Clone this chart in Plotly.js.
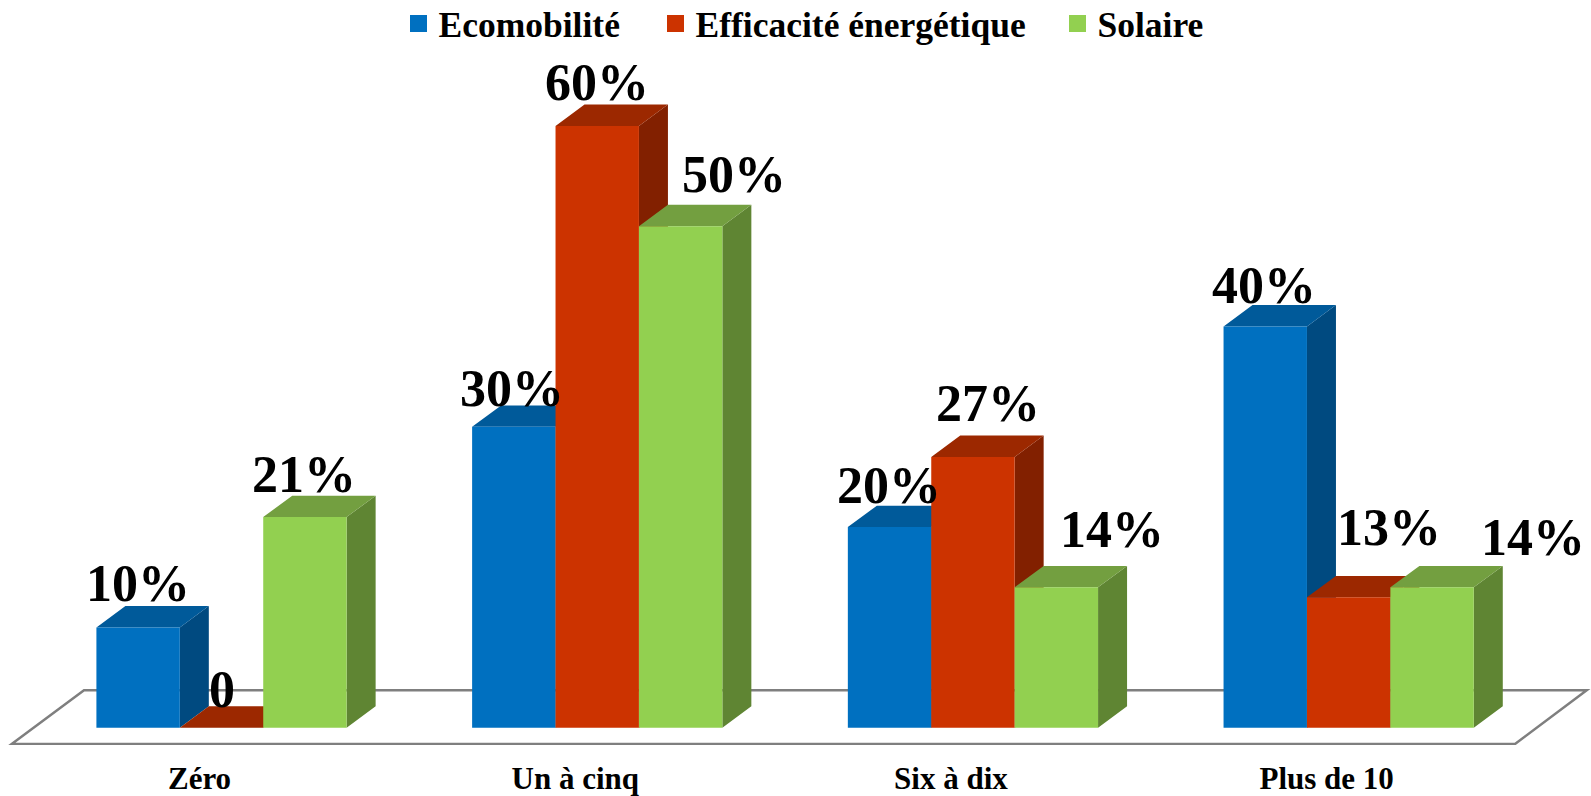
<!DOCTYPE html>
<html>
<head>
<meta charset="utf-8">
<script src="https://cdn.plot.ly/plotly-3.0.1.min.js"></script>
<style>html,body{margin:0;padding:0;background:#fff}#chart{width:1591px;height:796px}</style>
</head>
<body>
<div id="chart"></div>
<script>
// --- data ---
const categories = ["Zéro", "Un à cinq", "Six à dix", "Plus de 10"];
const ecomobilite = [10, 30, 20, 40];
const efficacite = [0, 60, 27, 13];
const solaire = [21, 50, 14, 14];
const seriesNames = ["Ecomobilité", "Efficacité énergétique", "Solaire"];
const seriesValues = [ecomobilite, efficacite, solaire];

// --- styles ---
const frontColors = ["#0070C0", "#CC3300", "#92D050"];
const topColors = ["#005A9A", "#9C2800", "#739F40"];
const sideColors = ["#004A80", "#822000", "#5F8533"];
const legendWidths = [212, 357, 118];
const W = 1591, H = 796, plotTop = 60, plotBottom = 745;
const xLo = -0.5896, xHi = 3.645, yLo = -1.725, yHi = 66.57;
const pxPerX = W / (xHi - xLo), pxPerY = (plotBottom - plotTop) / (yHi - yLo);
const barW = 0.222, depthX = 29 / pxPerX, depthY = 21.4 / pxPerY;
const FONT = '"Liberation Serif", serif';

const idx = categories.map((_, i) => i);
const traces = [];

// faces of the 3D look, on the base axes (drawn beneath the bar fronts)
seriesValues.forEach((vals, s) => {
  const left = i => i + (s - 1.5) * barW, right = i => left(i) + barW;
  const tx = [], ty = [], sx = [], sy = [];
  vals.forEach((v, i) => {
    tx.push(left(i), left(i) + depthX, right(i) + depthX, right(i), left(i), null);
    ty.push(v, v + depthY, v + depthY, v, v, null);
    if (v > 0) {
      sx.push(right(i), right(i) + depthX, right(i) + depthX, right(i), right(i), null);
      sy.push(0, depthY, v + depthY, v, 0, null);
    }
  });
  traces.push({type:"scatter", mode:"lines", x:sx, y:sy, fill:"toself", fillcolor:sideColors[s],
    line:{width:0, color:sideColors[s]}, showlegend:false, hoverinfo:"skip"});
  traces.push({type:"scatter", mode:"lines", x:tx, y:ty, fill:"toself", fillcolor:topColors[s],
    line:{width:0, color:topColors[s]}, showlegend:false, hoverinfo:"skip"});
});

// legend keys
seriesNames.forEach((name, s) => traces.push({type:"bar", name, x:[null], y:[null], legendwidth:legendWidths[s],
  marker:{color:frontColors[s], line:{color:frontColors[s], width:5}}, hoverinfo:"skip"}));

// bar fronts, on overlay axes so they sit above all faces
seriesValues.forEach((vals, s) => traces.push({type:"bar", name:seriesNames[s], x:idx, y:vals,
  xaxis:"x2", yaxis:"y2", marker:{color:frontColors[s]}, showlegend:false}));

// label offsets from each bar's top-centre (px)
const labelDx = [[0,-2,-1,-1],[0,0,15,40],[-1,53,56,101]];
const labelDy = [[44,38,42,41],[38,43,53,70],[43,52,58,50]];
const annotations = [];
seriesValues.forEach((vals, s) => vals.forEach((v, i) => annotations.push({
  xref:"x", yref:"y", x:i + (s - 1) * barW, y:v, showarrow:false,
  text: v === 0 ? "0" : v + "%", xanchor:"center", yanchor:"middle",
  xshift:labelDx[s][i], yshift:labelDy[s][i],
  font:{family:FONT, size:52, color:"#000", weight:700}
})));

const px = x => xLo + x / pxPerX, py = y => yHi - (y - plotTop) / pxPerY;
const floor = [[11.7,744],[84,690.3],[1586.7,690.3],[1515,744]];
const floorPath = "M" + floor.map(p => px(p[0]) + "," + py(p[1])).join("L") + "Z";

const layout = {
  width:W, height:H, margin:{l:0,r:0,t:plotTop,b:H-plotBottom,pad:0},
  paper_bgcolor:"#fff", plot_bgcolor:"rgba(0,0,0,0)",
  barmode:"group", bargap:1 - 3 * barW, bargroupgap:0,
  showlegend:true,
  legend:{orientation:"h", x:0.5 + 14 / W, xanchor:"center", yref:"container", y:1 - 24 / H, yanchor:"middle",
    font:{family:FONT, size:35.5, color:"#000", weight:700}, bgcolor:"rgba(0,0,0,0)", traceorder:"normal"},
  xaxis:{range:[xLo,xHi], tickmode:"array", tickvals:idx.map(i => i - 22 / pxPerX), ticktext:categories,
    ticks:"outside", ticklen:6, tickcolor:"rgba(0,0,0,0)", showgrid:false, zeroline:false, showline:false,
    tickfont:{family:FONT, size:31, color:"#000", weight:700}},
  yaxis:{range:[yLo,yHi], visible:false, showgrid:false, zeroline:false},
  xaxis2:{range:[xLo,xHi], overlaying:"x", visible:false},
  yaxis2:{range:[yLo,yHi], overlaying:"y", visible:false},
  shapes:[{type:"path", path:floorPath, xref:"x", yref:"y", layer:"below",
    fillcolor:"#fff", line:{color:"#7F7F7F", width:2.5}}],
  annotations
};
Plotly.newPlot("chart", traces, layout, {displayModeBar:false, staticPlot:true});
</script>
</body>
</html>
